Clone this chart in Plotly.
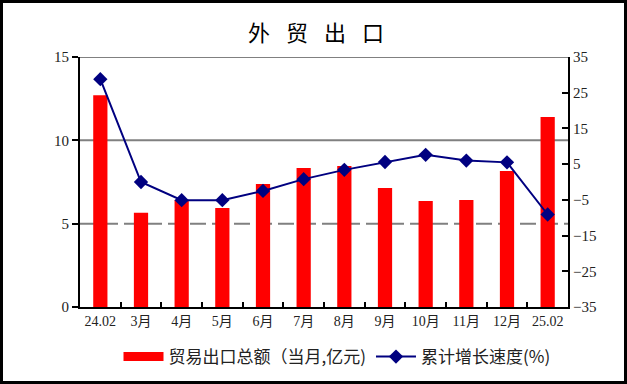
import plotly.graph_objects as go

categories = ["24.02", "3月", "4月", "5月", "6月", "7月", "8月", "9月", "10月", "11月", "12月", "25.02"]
export_total = [12.7, 5.65, 6.42, 5.94, 7.38, 8.34, 8.46, 7.14, 6.36, 6.42, 8.16, 11.4]
cum_growth = [28.8, 0.0, -5.1, -5.1, -2.5, 0.8, 3.4, 5.6, 7.6, 6.0, 5.5, -9.1]
left_ticks = [0, 5, 10, 15]
right_ticks = [-35, -25, -15, -5, 5, 15, 25, 35]

serif = "Liberation Serif, Noto Sans CJK SC, serif"
cjk = "Noto Sans CJK SC, sans-serif"

W, H = 627, 384
L, R, T, B = 80, 59, 57, 77
pw, ph = W - L - R, H - T - B

fig = go.Figure()
fig.add_bar(x=categories, y=export_total, marker=dict(color="#FF0000", line=dict(width=0)),
            width=0.35, showlegend=False, name="贸易出口总额（当月,亿元)")
fig.add_scatter(x=[categories[0]], y=[None], mode="lines",
                line=dict(color="#FF0000", width=9), name="贸易出口总额（当月,亿元)")
fig.add_scatter(x=categories, y=cum_growth, yaxis="y2", mode="lines+markers",
                line=dict(color="#000080", width=2),
                marker=dict(symbol="diamond", size=11, color="#000080"),
                name="累计增长速度(%)")

def px_x(p):
    return (p - L) / pw

def px_y(p):
    return (H - B - p) / ph

shapes = [
    dict(type="line", xref="paper", yref="y", x0=0, x1=1, y0=15, y1=15,
         line=dict(color="#808080", width=2), layer="below"),
    dict(type="line", xref="paper", yref="y", x0=0, x1=1, y0=10, y1=10,
         line=dict(color="#808080", width=2), layer="below"),
    dict(type="line", xref="paper", yref="y", x0=0, x1=1, y0=5, y1=5,
         line=dict(color="#808080", width=2, dash="16px,6px"), layer="below"),
    dict(type="rect", xref="paper", yref="paper",
         x0=px_x(1.5), x1=px_x(W - 1.5), y0=px_y(H - 1.5), y1=px_y(1.5),
         line=dict(color="black", width=3), fillcolor="rgba(0,0,0,0)"),
]

fig.update_layout(
    width=W, height=H,
    margin=dict(l=L, r=R, t=T, b=B, autoexpand=False),
    paper_bgcolor="white", plot_bgcolor="white",
    title=dict(text="外\u2002 贸\u2002 出\u2002 口", x=(L + pw / 2 - 8) / W, xanchor="center",
               y=1 - 33 / H, yanchor="middle",
               font=dict(family=cjk, size=22, color="black")),
    xaxis=dict(type="category", tickson="boundaries", ticks="inside", ticklen=5,
               range=[-0.5, len(categories) - 0.5],
               tickcolor="black", tickwidth=2, tickangle=0, automargin=False,
               showline=True, linecolor="black", linewidth=2, showgrid=False,
               tickfont=dict(family=serif, size=14, color="#222")),
    yaxis=dict(range=[0, 15], tickvals=left_ticks, ticks="outside", ticklen=6,
               tickcolor="black", tickwidth=2, automargin=False,
               showline=True, linecolor="black", linewidth=2, showgrid=False, zeroline=False,
               tickfont=dict(family=serif, size=15, color="#222")),
    yaxis2=dict(range=[-35, 35], tickvals=right_ticks, overlaying="y", side="right",
                ticks="inside", ticklen=6, tickcolor="black", tickwidth=2, automargin=False,
                showline=True, linecolor="black", linewidth=2, showgrid=False, zeroline=False,
                tickfont=dict(family=serif, size=15, color="#222")),
    legend=dict(orientation="h", x=(337 - L) / pw, xanchor="center", y=px_y(357), yanchor="middle",
                font=dict(family=cjk, size=17, color="#222"), itemwidth=40,
                bgcolor="rgba(0,0,0,0)"),
    shapes=shapes,
    bargap=0.65,
)

fig.write_html("out.html", config={"displayModeBar": False})

with open("out.html", encoding="utf-8") as f:
    html = f.read()
html = html.replace("<body>", '<body style="margin:0;padding:0;overflow:hidden">', 1)
with open("out.html", "w", encoding="utf-8") as f:
    f.write(html)
